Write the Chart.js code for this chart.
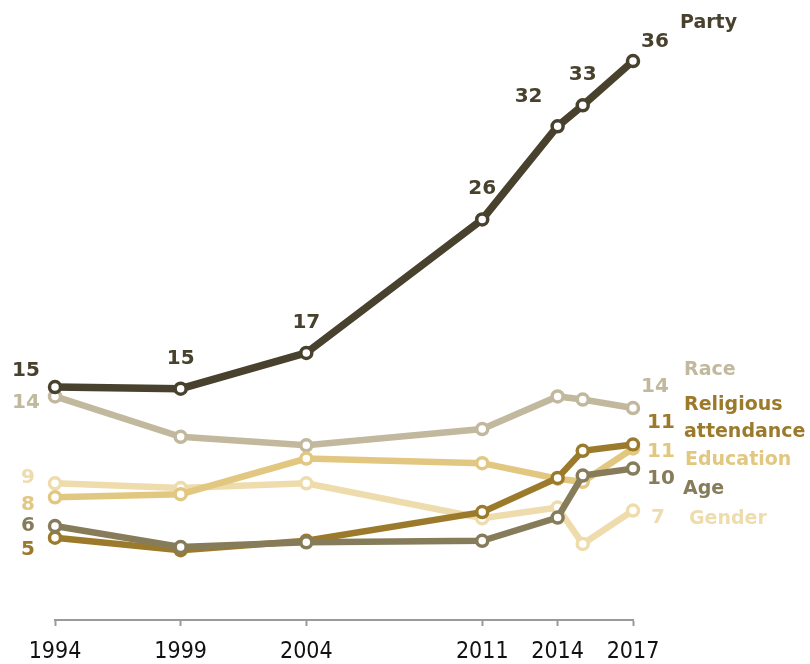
<!DOCTYPE html>
<html>
<head>
<meta charset="utf-8">
<script src="https://cdn.jsdelivr.net/npm/chart.js@4"></script>
<style>
    html, body { margin: 0; padding: 0; background: #fff; }
    #wrap { width: 810px; height: 664px; }
</style>
</head>
<body>
<div id="wrap"><canvas id="chart" width="810" height="664"></canvas></div>
<script>
// Annees de l'enquete
const years = [1994, 1999, 2004, 2011, 2014, 2015, 2017]
const tickYears = [1994, 1999, 2004, 2011, 2014, 2017]

// Valeurs (ecart en points)
const party = [15.0, 14.9, 17.2, 25.8, 31.8, 33.15, 36.0]
const race = [14.4, 11.8, 11.25, 12.3, 14.4, 14.2, 13.65]
const religious = [5.3, 4.5, 5.1, 6.95, 9.15, 10.9, 11.3]
const education = [7.9, 8.1, 10.4, 10.1, 9.1, 8.9, 11.05]
const age = [6.05, 4.7, 5.0, 5.1, 6.6, 9.3, 9.75]
const gender = [8.8, 8.5, 8.8, 6.55, 7.25, 4.9, 7.05]

const colors = {
    party: '#48412d',
    race: '#c1b89d',
    religious: '#9c7a2c',
    education: '#e2c781',
    age: '#867c5a',
    gender: '#eedcac'
}

// Etiquettes : serie, indice du point, decalage en pixels
const valueLabels = [
    { set: 'Party', i: 0, dx: -29, dy: -16 },
    { set: 'Party', i: 1, dx: 0, dy: -30 },
    { set: 'Party', i: 2, dx: 0, dy: -30 },
    { set: 'Party', i: 3, dx: 0, dy: -31 },
    { set: 'Party', i: 4, dx: -29, dy: -29 },
    { set: 'Party', i: 5, dx: 0, dy: -31 },
    { set: 'Party', i: 6, dx: 22, dy: -19 },
    { set: 'Race', i: 0, dx: -29, dy: 6 },
    { set: 'Race', i: 6, dx: 22, dy: -21 },
    { set: 'Religious attendance', i: 0, dx: -27, dy: 12 },
    { set: 'Religious attendance', i: 6, dx: 28, dy: -22 },
    { set: 'Education', i: 0, dx: -27, dy: 7 },
    { set: 'Education', i: 6, dx: 28, dy: 3 },
    { set: 'Age', i: 0, dx: -27, dy: 0 },
    { set: 'Age', i: 6, dx: 28, dy: 10 },
    { set: 'Gender', i: 0, dx: -27, dy: -6 },
    { set: 'Gender', i: 6, dx: 25, dy: 7 }
]

const nameLabels = [
    { set: 'Party', lines: ['Party'], dx: 47, dy: -38 },
    { set: 'Race', lines: ['Race'], dx: 51, dy: -38 },
    { set: 'Religious attendance', lines: ['Religious', 'attendance'], dx: 51, dy: -39 },
    { set: 'Education', lines: ['Education'], dx: 52, dy: 12 },
    { set: 'Age', lines: ['Age'], dx: 50, dy: 20 },
    { set: 'Gender', lines: ['Gender'], dx: 56, dy: 9 }
]

function makeSet(label, values, color, width) {
    return {
        label: label,
        data: values.map((v, i) => ({ x: years[i], y: v })),
        borderColor: color,
        borderWidth: width,
        pointBackgroundColor: '#fff',
        pointBorderColor: color,
        pointBorderWidth: 3.5,
        pointRadius: 5.5,
        pointHoverRadius: 5.5,
        tension: 0,
        clip: false
    }
}

// Plugin pour les etiquettes de valeurs et les noms des series
const labelsPlugin = {
    id: 'labelsPlugin',
    afterDatasetsDraw(chart) {
        const ctx = chart.ctx
        const find = (name) => chart.data.datasets.findIndex((d) => d.label === name)
        ctx.save()
        ctx.textBaseline = 'middle'

        ctx.font = 'bold 20px "DejaVu Sans", sans-serif'
        ctx.textAlign = 'center'
        valueLabels.forEach((l) => {
            const di = find(l.set)
            const pt = chart.getDatasetMeta(di).data[l.i]
            const v = chart.data.datasets[di].data[l.i].y
            ctx.fillStyle = chart.data.datasets[di].borderColor
            ctx.fillText(String(Math.round(v)), pt.x + l.dx, pt.y + l.dy)
        })

        ctx.font = 'bold 19px "DejaVu Sans", sans-serif'
        ctx.textAlign = 'left'
        nameLabels.forEach((l) => {
            const di = find(l.set)
            const meta = chart.getDatasetMeta(di)
            const pt = meta.data[meta.data.length - 1]
            ctx.fillStyle = chart.data.datasets[di].borderColor
            l.lines.forEach((txt, k) => {
                ctx.fillText(txt, pt.x + l.dx, pt.y + l.dy + k * 26.7)
            })
        })
        ctx.restore()
    }
}

const ctx = document.getElementById('chart')
new Chart(ctx, {
    type: 'line',
    data: {
        // le premier jeu est dessine au-dessus
        datasets: [
            makeSet('Party', party, colors.party, 7.5),
            makeSet('Age', age, colors.age, 6.5),
            makeSet('Religious attendance', religious, colors.religious, 6.5),
            makeSet('Education', education, colors.education, 6.5),
            makeSet('Gender', gender, colors.gender, 6.5),
            makeSet('Race', race, colors.race, 6.5)
        ]
    },
    options: {
        responsive: false,
        animation: false,
        events: [],
        layout: {
            autoPadding: false,
            padding: { left: 55, right: 177, top: 30, bottom: -15 }
        },
        plugins: {
            legend: { display: false },
            tooltip: { enabled: false }
        },
        scales: {
            x: {
                type: 'linear',
                min: 1994,
                max: 2017,
                afterBuildTicks: (axis) => {
                    axis.ticks = tickYears.map((v) => ({ value: v }))
                },
                ticks: {
                    autoSkip: false,
                    maxRotation: 0,
                    padding: 15,
                    color: '#111',
                    font: { family: '"DejaVu Sans Condensed", "Liberation Sans Narrow", sans-serif', size: 23, lineHeight: 1 },
                    callback: (v) => String(v)
                },
                grid: {
                    drawOnChartArea: false,
                    tickLength: 6,
                    tickWidth: 2,
                    color: '#9a9a9a'
                },
                border: { color: '#9a9a9a', width: 2 }
            },
            y: {
                display: false,
                min: 0,
                max: 38
            }
        }
    },
    plugins: [labelsPlugin]
})
</script>
</body>
</html>
